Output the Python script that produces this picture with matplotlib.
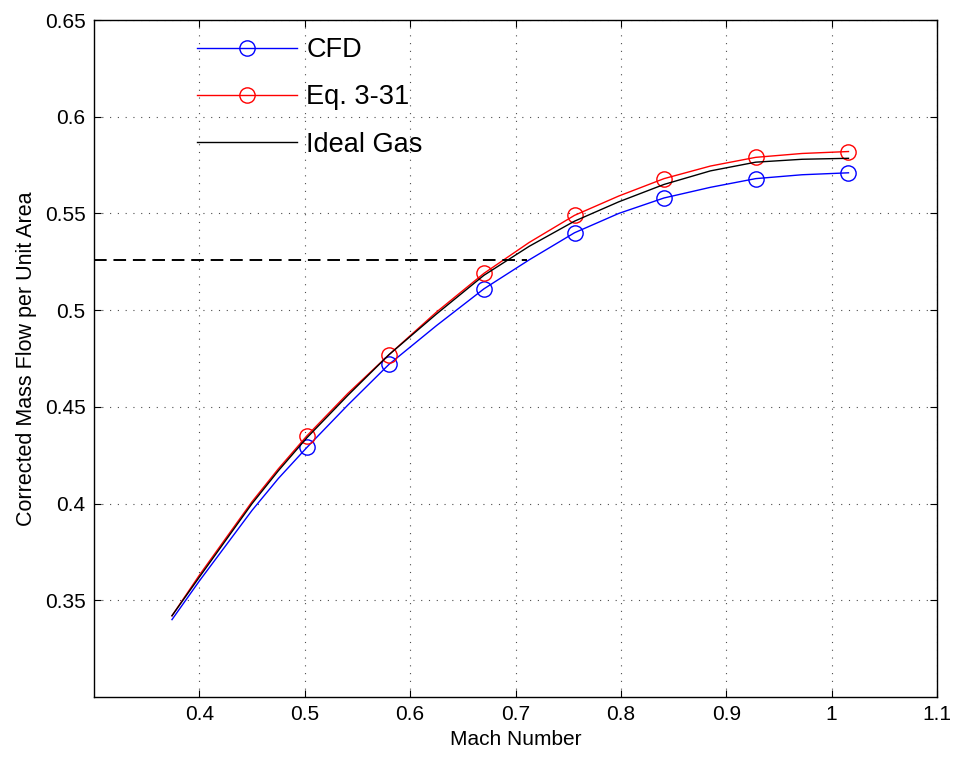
import matplotlib
matplotlib.use("Agg")
import matplotlib.pyplot as plt

# Data
mach = [0.374, 0.40, 0.45, 0.475, 0.502, 0.541, 0.580, 0.625, 0.670, 0.713,
        0.756, 0.798, 0.841, 0.885, 0.928, 0.972, 1.016]
cfd = [0.340, 0.360, 0.3965, 0.413, 0.429, 0.451, 0.472, 0.492, 0.511, 0.526,
       0.540, 0.550, 0.558, 0.5635, 0.568, 0.570, 0.571]
eq331 = [0.342, 0.363, 0.401, 0.418, 0.435, 0.457, 0.477, 0.499, 0.519, 0.535,
         0.549, 0.559, 0.568, 0.5745, 0.579, 0.581, 0.582]
ideal = [0.342, 0.362, 0.400, 0.417, 0.434, 0.456, 0.477, 0.498, 0.518, 0.533,
         0.546, 0.556, 0.565, 0.572, 0.5765, 0.578, 0.5785]
marker_idx = [4, 6, 8, 10, 12, 14, 16]

ref_y = 0.526
ref_x = [0.3, 0.711]

xticks = [0.4, 0.5, 0.6, 0.7, 0.8, 0.9, 1.0, 1.1]
xticklabels = ["0.4", "0.5", "0.6", "0.7", "0.8", "0.9", "1", "1.1"]
yticks = [0.35, 0.4, 0.45, 0.5, 0.55, 0.6, 0.65]
yticklabels = ["0.35", "0.4", "0.45", "0.5", "0.55", "0.6", "0.65"]

plt.rcParams['font.family'] = ['Liberation Sans', 'DejaVu Sans']

W, H = 955, 761
fig = plt.figure(figsize=(W / 100, H / 100), dpi=100)
ax = fig.add_axes([94 / W, (H - 697) / H, (937 - 94) / W, (697 - 20) / H])

ax.plot(mach, cfd, color='#0000ff', lw=1.0, marker='o', ms=11, mfc='none',
        mec='#0000ff', mew=1.0, markevery=marker_idx, label='CFD')
ax.plot(mach, eq331, color='#ff0000', lw=1.0, marker='o', ms=11, mfc='none',
        mec='#ff0000', mew=1.0, markevery=marker_idx, label='Eq. 3-31')
ax.plot(mach, ideal, color='black', lw=1.0, label='Ideal Gas')
ax.plot(ref_x, [ref_y, ref_y], color='black', lw=1.4, dashes=(6.5, 3.5))

ax.set_xlim(0.3, 1.1)
ax.set_ylim(0.3, 0.65)
ax.set_xticks(xticks)
ax.set_xticklabels(xticklabels)
ax.set_yticks(yticks)
ax.set_yticklabels(yticklabels)
ax.tick_params(direction='in', length=5, width=0.8, top=True, right=True,
               labelsize=15, pad=6)
for s in ax.spines.values():
    s.set_linewidth(1.0)
ax.grid(True, color='0.3', lw=0.8, linestyle=(0, (1, 6)))

ax.set_xlabel('Mach Number', fontsize=15, labelpad=4)
ax.set_ylabel('Corrected Mass Flow per Unit Area', fontsize=15.5, labelpad=6)

leg = ax.legend(loc='upper left', bbox_to_anchor=(197 / W, 1 - 37 / H),
                bbox_transform=fig.transFigure, frameon=False, fontsize=19.5,
                handlelength=3.7, handletextpad=0.33, labelspacing=0.79,
                borderpad=0, borderaxespad=0)

fig.savefig('out.png', dpi=100)
